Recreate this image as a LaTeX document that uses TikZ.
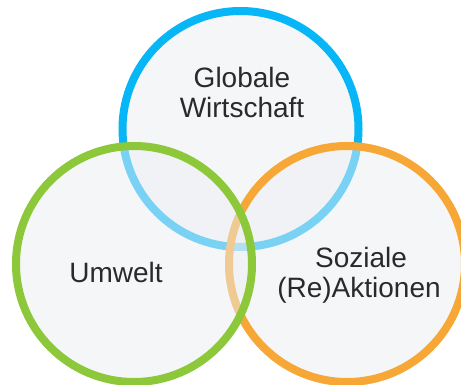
\documentclass[tikz,border=0pt]{standalone}
\usepackage{fontspec}
\setmainfont{Liberation Sans}
\definecolor{cblue}{HTML}{06B6F6}
\definecolor{cgreen}{HTML}{8CC83A}
\definecolor{corange}{HTML}{F6A735}
\definecolor{cfill}{HTML}{ECEEF2}
\definecolor{ctext}{HTML}{2A2A2A}
\begin{document}
\begin{tikzpicture}[x=1pt,y=-1pt,
  ring/.style={circle, inner sep=0pt, minimum size=236pt, line width=8pt, fill=cfill, fill opacity=0.5, draw opacity=1},
  lbl/.style={text=ctext, font=\fontsize{28}{30}\selectfont, align=center, inner sep=0pt}]
\useasboundingbox (0,0) rectangle (461,385);
\node[ring, draw=cblue] (wirt) at (240.5,129) {};
\node[ring, draw=corange] (soz) at (347,264) {};
\node[ring, draw=cgreen] (umw) at (134,264) {};
\node[lbl, anchor=base] (t1) at (242,88) {Globale};
\node[lbl, anchor=base] (t2) at (242,118) {Wirtschaft};
\node[lbl, anchor=base] (t3) at (116,283) {Umwelt};
\node[lbl, anchor=base] (t4) at (361,267) {Soziale};
\node[lbl, anchor=base] (t5) at (359,298) {(Re)Aktionen};
\end{tikzpicture}
\end{document}
